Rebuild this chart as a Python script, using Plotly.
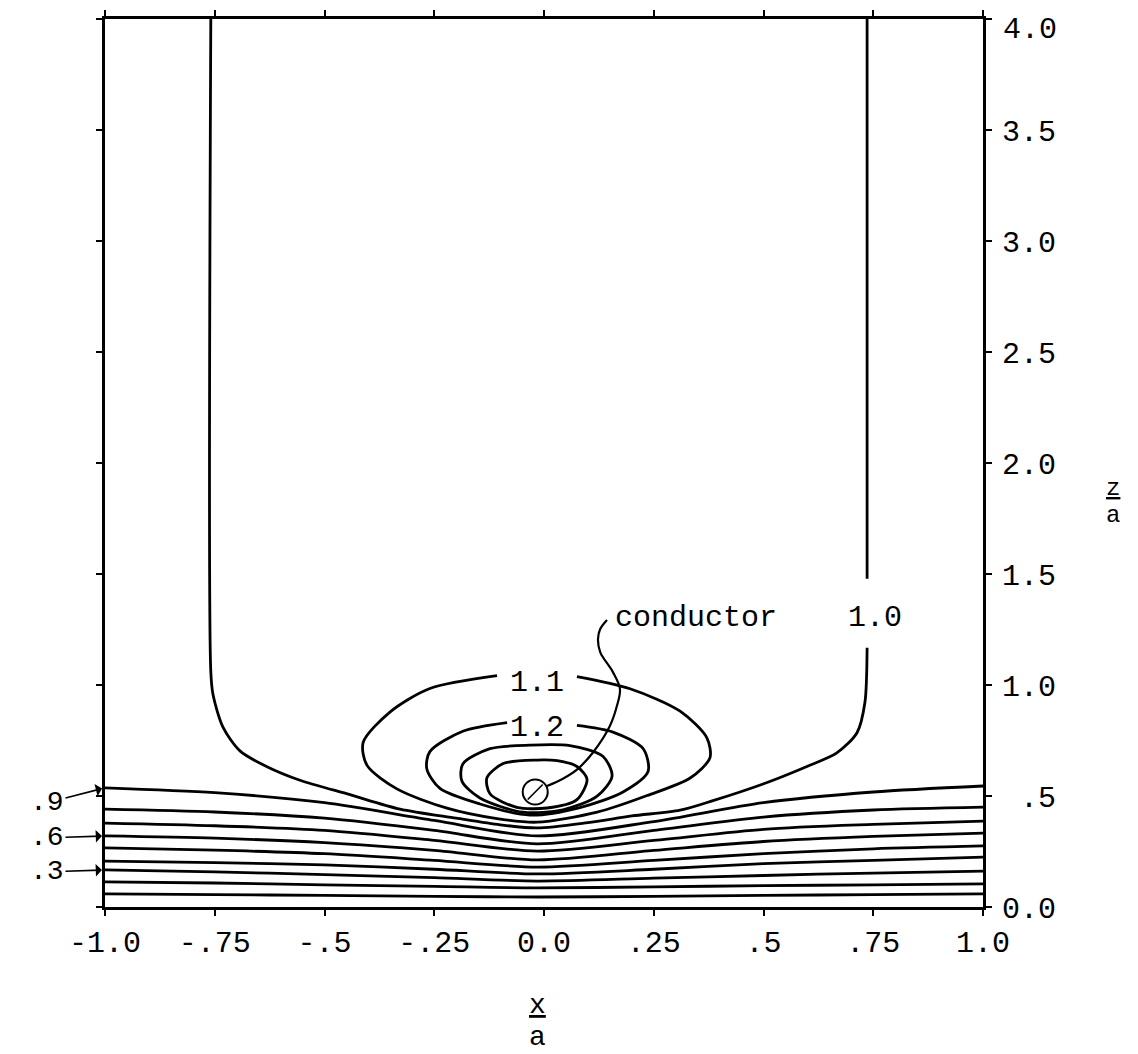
import plotly.graph_objects as go

# ---------------- data (x/a, z/a) ----------------
x_grid = [-1.0, -0.75, -0.5, -0.25, -0.015, 0.25, 0.5, 0.75, 1.0]
z_09 = [0.537, 0.515, 0.470, 0.390, 0.320, 0.385, 0.470, 0.518, 0.545]
z_08 = [0.441, 0.428, 0.400, 0.345, 0.284, 0.345, 0.405, 0.437, 0.450]
z_07 = [0.378, 0.366, 0.345, 0.300, 0.252, 0.300, 0.350, 0.372, 0.387]
z_06 = [0.320, 0.310, 0.290, 0.255, 0.212, 0.255, 0.295, 0.318, 0.333]
z_05 = [0.266, 0.256, 0.240, 0.210, 0.180, 0.210, 0.240, 0.262, 0.275]
z_04 = [0.207, 0.200, 0.190, 0.170, 0.149, 0.170, 0.195, 0.210, 0.225]
z_03 = [0.167, 0.158, 0.146, 0.132, 0.117, 0.130, 0.142, 0.153, 0.162]
z_02 = [0.113, 0.108, 0.100, 0.093, 0.086, 0.091, 0.096, 0.100, 0.104]
z_01 = [0.059, 0.056, 0.052, 0.048, 0.045, 0.048, 0.052, 0.056, 0.059]

# contour 1.0 (left vertical, dip under the conductor, right vertical up to its label)
c10_x = [-0.759, -0.759, -0.754, -0.731, -0.692, -0.631, -0.556, -0.442, -0.328, -0.20, -0.10,
         -0.016, 0.10, 0.20, 0.31, 0.385, 0.499, 0.599, 0.667, 0.713, 0.731, 0.736]
c10_z = [4.0, 1.061, 0.957, 0.809, 0.702, 0.632, 0.571, 0.506, 0.441, 0.400, 0.370,
         0.356, 0.380, 0.410, 0.436, 0.479, 0.554, 0.633, 0.694, 0.785, 0.921, 1.168]
c10_top_x = [0.736, 0.736]
c10_top_z = [1.479, 4.0]

# contour 1.1 (open at its label)
c11_x = [0.075, 0.196, 0.31, 0.371, 0.378, 0.333, 0.235, 0.121, -0.016, -0.107, -0.221,
         -0.335, -0.403, -0.412, -0.351, -0.26, -0.107]
c11_z = [1.038, 0.983, 0.882, 0.762, 0.672, 0.581, 0.502, 0.427, 0.382, 0.398, 0.445,
         0.532, 0.638, 0.741, 0.878, 0.984, 1.042]

# contour 1.2 (open at its label)
c12_x = [0.075, 0.157, 0.226, 0.237, 0.18, 0.082, -0.032, -0.146, -0.237, -0.267, -0.26,
         -0.185, -0.084]
c12_z = [0.818, 0.788, 0.713, 0.610, 0.518, 0.448, 0.414, 0.464, 0.534, 0.623, 0.700,
         0.792, 0.831]

# contours 1.3 and 1.4 (closed)
c13_x = [-0.032, -0.123, -0.185, -0.187, -0.146, -0.048, 0.043, 0.121, 0.155, 0.134, 0.059, -0.032]
c13_z = [0.729, 0.713, 0.644, 0.567, 0.491, 0.427, 0.438, 0.499, 0.590, 0.679, 0.727, 0.729]
c14_x = [-0.016, -0.093, -0.130, -0.123, -0.062, 0.007, 0.075, 0.098, 0.075, 0.030, -0.016]
c14_z = [0.662, 0.646, 0.582, 0.510, 0.449, 0.446, 0.484, 0.575, 0.633, 0.659, 0.662]

# conductor and its leader line
conductor_x = [-0.02]
conductor_z = [0.518]
leader_x = [0.1435, 0.128, 0.123, 0.128, 0.157, 0.173, 0.166, 0.150, 0.112, 0.075, 0.043, 0.007]
leader_z = [1.293, 1.252, 1.207, 1.148, 1.058, 0.982, 0.905, 0.815, 0.697, 0.619, 0.578, 0.545]

x_ticks = [-1.0, -0.75, -0.5, -0.25, 0.0, 0.25, 0.5, 0.75, 1.0]
x_ticktext = ["-1.0", "-.75", "-.5", "-.25", "0.0", ".25", ".5", ".75", "1.0"]
z_ticks = [0.0, 0.5, 1.0, 1.5, 2.0, 2.5, 3.0, 3.5, 4.0]
z_ticktext = ["0.0", "\u00a0.5", "1.0", "1.5", "2.0", "2.5", "3.0", "3.5", ""]
z_top_label = "4.0"

# ---------------- figure ----------------
FONT = "Liberation Mono, Courier New, monospace"
LINE = dict(color="black", width=2.8)
BODY = 8  # default page margin of the html body
W, H = 1138 - BODY, 1054 - BODY
ML, MR, MT, MB = 105 - BODY, 155, 19 - BODY, 147
PW, PH = W - ML - MR, H - MT - MB


def px_x(px):  # absolute page x -> paper fraction
    return (px - BODY - ML) / PW


def px_y(py):  # absolute page y -> paper fraction
    return (H - MB - (py - BODY)) / PH


fig = go.Figure()

for zs in [z_09, z_08, z_07, z_06, z_05, z_04, z_03, z_02, z_01]:
    fig.add_trace(go.Scatter(x=x_grid, y=zs, mode="lines", line=dict(LINE, shape="spline", smoothing=0.8),
                             hoverinfo="skip"))

for xs, zs in [(c10_x, c10_z), (c10_top_x, c10_top_z), (c11_x, c11_z), (c12_x, c12_z),
               (c13_x, c13_z), (c14_x, c14_z)]:
    fig.add_trace(go.Scatter(x=xs, y=zs, mode="lines", line=dict(LINE, shape="spline", smoothing=0.8),
                             hoverinfo="skip"))

fig.add_trace(go.Scatter(x=leader_x, y=leader_z, mode="lines",
                         line=dict(color="black", width=2.2, shape="spline", smoothing=1.0), hoverinfo="skip"))

fig.add_trace(go.Scatter(x=conductor_x, y=conductor_z, mode="markers",
                         marker=dict(symbol="circle-open", size=25, color="black", line=dict(width=2)),
                         hoverinfo="skip"))
fig.add_trace(go.Scatter(x=conductor_x, y=conductor_z, mode="markers",
                         marker=dict(symbol="line-ne-open", size=15, color="black", line=dict(width=1.6)),
                         hoverinfo="skip"))

# text labels
fig.add_annotation(x=-0.016, y=1.01, text="1.1", showarrow=False, font=dict(family=FONT, size=30, color="black"))
fig.add_annotation(x=-0.016, y=0.805, text="1.2", showarrow=False, font=dict(family=FONT, size=30, color="black"))
fig.add_annotation(x=0.754, y=1.304, text="1.0", showarrow=False, font=dict(family=FONT, size=30, color="black"))
fig.add_annotation(x=0.157, y=1.30, text="conductor", showarrow=False, xanchor="left",
                   font=dict(family=FONT, size=30, color="black"))

for val, zv, dy in [(".9", 0.537, 15), (".6", 0.320, 2), (".3", 0.167, 2)]:
    fig.add_annotation(x=-1.0, y=zv, text=val, showarrow=True, ax=-58, ay=dy,
                       arrowhead=1, arrowsize=1.3, arrowwidth=1.6, arrowcolor="black", standoff=3,
                       font=dict(family=FONT, size=28, color="black"))

# top tick label of the right axis, nudged down so it stays inside the page
fig.add_annotation(xref="paper", x=px_x(1001), y=z_ticks[-1], text=z_top_label, showarrow=False,
                   xanchor="left", yanchor="middle", yshift=-11,
                   font=dict(family=FONT, size=30, color="black"))

# axis titles as stacked fractions
fig.add_annotation(xref="paper", yref="paper", x=px_x(537), y=px_y(1005), text="<u>x</u>",
                   showarrow=False, yanchor="middle", font=dict(family=FONT, size=28, color="black"))
fig.add_annotation(xref="paper", yref="paper", x=px_x(537), y=px_y(1037), text="a",
                   showarrow=False, yanchor="middle", font=dict(family=FONT, size=28, color="black"))
fig.add_annotation(xref="paper", yref="paper", x=px_x(1122), y=px_y(488), text="<u>z</u>",
                   showarrow=False, yanchor="middle", font=dict(family=FONT, size=24, color="black"))
fig.add_annotation(xref="paper", yref="paper", x=px_x(1122), y=px_y(515), text="a",
                   showarrow=False, yanchor="middle", font=dict(family=FONT, size=24, color="black"))

axis_common = dict(showgrid=False, zeroline=False, showline=True, linecolor="black", linewidth=3,
                   ticks="outside", ticklen=6, tickwidth=2, tickcolor="black", mirror="ticks",
                   automargin=False, ticklabeloverflow="allow",
                   tickfont=dict(family=FONT, size=30, color="black"))

fig.update_xaxes(range=[-1, 1], tickvals=x_ticks, ticktext=x_ticktext, ticklabelstandoff=0, **axis_common)
fig.update_yaxes(range=[0, 4], tickvals=z_ticks, ticktext=z_ticktext, side="right",
                 ticklabelstandoff=4, **axis_common)

fig.update_layout(width=W, height=H, autosize=False, showlegend=False,
                  paper_bgcolor="white", plot_bgcolor="white",
                  margin=dict(l=ML, r=MR, t=MT, b=MB, pad=0))

fig.write_html("out.html")
